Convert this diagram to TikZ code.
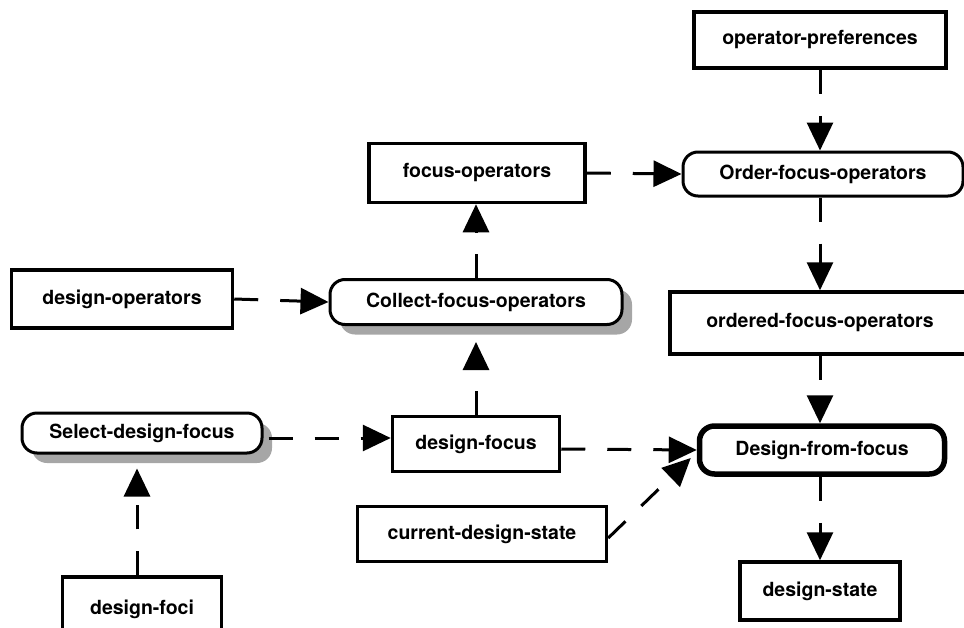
\documentclass[tikz,border=0pt]{standalone}
\usepackage{fontspec}
\setmainfont{TeX Gyre Heros}
\usetikzlibrary{arrows.meta,calc,shadows}
\begin{document}
\begin{tikzpicture}[x=1pt,y=-1pt,
  label/.style={font=\fontsize{19.5}{21}\selectfont\bfseries, inner sep=0pt},
  databox/.style={label, draw, fill=white, line width=3.5pt},
  process/.style={label, draw, fill=white, line width=3pt, rounded corners=15pt},
  mainprocess/.style={process, line width=5.5pt},
  shadowed/.style={drop shadow={shadow xshift=10pt, shadow yshift=-10pt, fill=black!35, opacity=1}},
  flow/.style={line width=3pt, dash pattern=on 24pt off 22pt,
    -{Triangle[length=28pt,width=26pt]}}
]
\useasboundingbox (0,0) rectangle (964,627);
\clip (0,0) rectangle (964,627);

% data stores
\node[databox, minimum width=252pt, minimum height=56pt] (opref) at (820,40) {operator-preferences};
\node[databox, minimum width=216pt, minimum height=59pt] (focop) at (477,173) {focus-operators};
\node[databox, minimum width=221pt, minimum height=58pt] (desop) at (122,299) {design-operators};
\node[databox, minimum width=300pt, minimum height=62pt] (ordered) at (820,323) {ordered-focus-operators};
\node[databox, minimum width=167pt, minimum height=55pt] (desfocus) at (476,444) {design-focus};
\node[databox, minimum width=249pt, minimum height=55pt] (cds) at (482,534) {current-design-state};
\node[databox, minimum width=159pt, minimum height=64pt] (desfoci) at (142,609) {design-foci};
\node[databox, minimum width=160pt, minimum height=58pt] (desstate) at (820,591) {design-state};

% processes
\node[process, minimum width=280pt, minimum height=44pt] (order) at (823,174) {Order-focus-operators};
\node[process, shadowed, minimum width=292pt, minimum height=45pt] (collect) at (476,302) {Collect-focus-operators};
\node[process, shadowed, minimum width=240pt, minimum height=40pt] (select) at (142,433) {Select-design-focus};
\node[mainprocess, minimum width=245pt, minimum height=48pt] (dff) at (822,450) {Design-from-focus};

% data flows
\draw[flow] (opref.south) -- (opref.south |- order.north);
\draw[flow] (focop.east) -- (order.west);
\draw[flow] (order.south -| opref.south) -- (opref.south |- ordered.north);
\draw[flow] (ordered.south) -- (ordered.south |- dff.north);
\draw[flow] (desop.east) -- (collect.west);
\draw[flow] (collect.north) -- (collect.north |- focop.south);
\draw[flow] (desfocus.north) -- ($(collect.south)+(0,16)$);
\draw[flow] ($(select.east)+(5,5)$) -- ($(desfocus.west)+(0,-6)$);
\draw[flow] ($(desfocus.east)+(0,5)$) -- (dff.west);
\draw[flow] ($(cds.east)+(0,4)$) -- ($(dff.west)+(-6,8)$);
\draw[flow] (desfoci.north -| 137,0) -- ($(select.south -| 137,0)+(0,14)$);
\draw[flow] (dff.south -| desstate.north) -- (desstate.north);
\end{tikzpicture}
\end{document}
